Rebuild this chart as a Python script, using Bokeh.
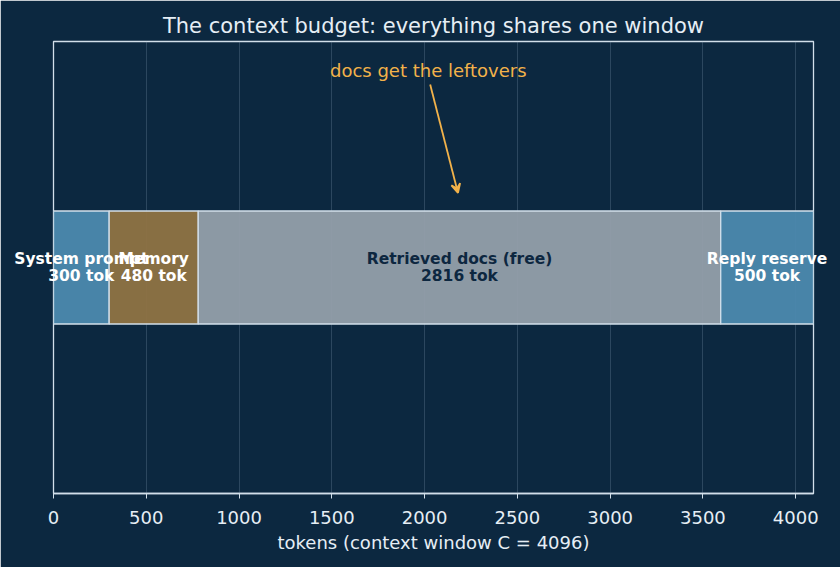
from bokeh.plotting import figure
from bokeh.models import Range1d, Arrow, VeeHead, Label, ColumnDataSource
from bokeh.core.properties import value
from bokeh.embed import file_html
from bokeh.resources import INLINE

# data
segments = ["System prompt", "Memory", "Retrieved docs (free)", "Reply reserve"]
tokens = [300, 480, 2816, 500]
colors = ["#4c89ae", "#8f7343", "#939faa", "#4c89ae"]
label_colors = ["#ffffff", "#ffffff", "#0d2740", "#ffffff"]
context_window = 4096
ticks = [0, 500, 1000, 1500, 2000, 2500, 3000, 3500, 4000]

BG = "#0c2840"
FG = "#e6eef5"
EDGE = "#d2dfea"
ACCENT = "#f2b24a"
FONT = "DejaVu Sans"

lefts, rights, mids = [], [], []
acc = 0
for t in tokens:
    lefts.append(acc)
    rights.append(acc + t)
    mids.append(acc + t / 2)
    acc += t

src = ColumnDataSource(dict(
    left=lefts, right=rights, mid=mids, y=[0] * len(tokens),
    color=colors, lc=label_colors,
    l1=segments, l2=[f"{t} tok" for t in tokens],
))

p = figure(width=840, height=567, output_backend="svg", toolbar_location=None,
           x_range=Range1d(0, context_window), y_range=Range1d(-1, 1),
           min_border_left=53, min_border_right=27, min_border_top=41, min_border_bottom=74)
p.background_fill_color = BG
p.border_fill_color = BG
p.outline_line_color = EDGE
p.outline_line_width = 1.3

p.title.text = "The context budget: everything shares one window"
p.title.align = "center"
p.title.text_color = FG
p.title.text_font = FONT
p.title.text_font_size = "21px"
p.title.text_font_style = "normal"
p.title.standoff = 8

p.yaxis.visible = False
p.ygrid.visible = False
p.xgrid.grid_line_color = "#8aa4bc"
p.xgrid.grid_line_alpha = 0.25
p.xgrid.ticker = ticks

ax = p.xaxis[0]
ax.ticker = ticks
ax.axis_label = "tokens (context window C = 4096)"
ax.axis_label_text_color = FG
ax.axis_label_text_font = FONT
ax.axis_label_text_font_size = "18px"
ax.axis_label_text_font_style = "normal"
ax.axis_label_standoff = 5
ax.major_label_text_color = FG
ax.major_label_text_font = FONT
ax.major_label_text_font_size = "18px"
ax.major_label_standoff = 12
ax.axis_line_color = EDGE
ax.axis_line_width = 1.3
ax.major_tick_line_color = EDGE
ax.major_tick_in = 0
ax.major_tick_out = 5
ax.minor_tick_line_color = None

p.hbar(y="y", left="left", right="right", height=0.5, source=src,
       fill_color="color", fill_alpha=0.95, line_color=EDGE, line_width=1.3)

for off, col in ((-8.5, "l1"), (8.5, "l2")):
    p.text(x="mid", y="y", text=col, source=src, text_color="lc",
           text_font=value(FONT), text_font_size="15.5px", text_font_style="bold",
           text_align="center", text_baseline="middle", y_offset=off, level="overlay")

# annotation
docs_mid = mids[2]
p.add_layout(Arrow(end=VeeHead(size=9, line_color=ACCENT, fill_color=ACCENT, line_width=1.8),
                   x_start=2030, y_start=0.81, x_end=docs_mid - 8, y_end=0.33,
                   line_color=ACCENT, line_width=1.8))
p.add_layout(Label(x=2020, y=0.87, text="docs get the leftovers", text_color=ACCENT,
                   text_font=FONT, text_font_size="18px", text_align="center",
                   text_baseline="middle"))

open("out.html", "w").write(file_html(p, INLINE))
